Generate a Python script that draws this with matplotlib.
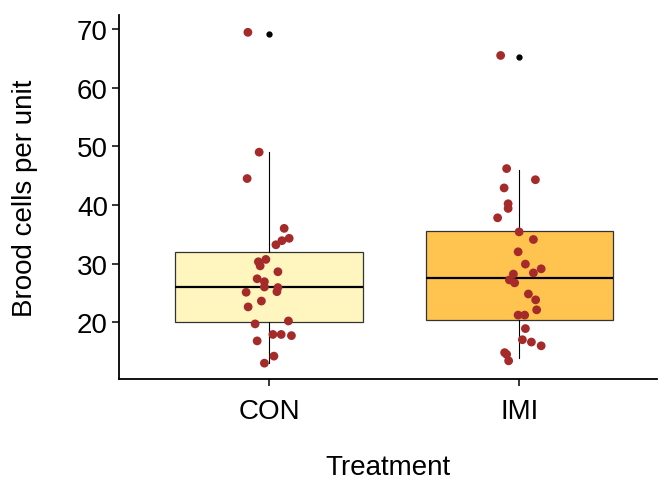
import matplotlib
matplotlib.use("Agg")
import matplotlib.pyplot as plt

plt.rcParams['font.family'] = ['Liberation Sans', 'DejaVu Sans']

categories = ["CON", "IMI"]
box_fill = ["#FFF5BE", "#FEC44F"]

# box statistics
q1 = [19.95, 20.4]
med = [26.0, 27.5]
q3 = [31.95, 35.55]
whislo = [13.0, 13.9]
whishi = [49.1, 45.9]
outliers = [[69.2], [65.3]]

# jittered raw points: values and horizontal jitter offsets (category units)
con_vals = [69.45, 49.0, 44.5, 36.0, 34.3, 33.9, 33.2, 30.7, 30.3, 29.6, 28.6,
            27.4, 26.9, 26.0, 25.9, 25.2, 25.1, 23.6, 22.6, 19.7, 20.2, 17.9,
            17.9, 17.7, 16.8, 14.2, 13.0]
con_jit = [-0.085, -0.04, -0.088, 0.06, 0.08, 0.051, 0.027, -0.013, -0.043, -0.036,
           0.035, -0.048, -0.019, -0.019, 0.035, 0.031, -0.092, -0.031, -0.084, -0.056,
           0.077, 0.015, 0.048, 0.089, -0.048, 0.019, -0.019]
imi_vals = [65.5, 46.2, 44.3, 42.9, 40.2, 39.4, 37.8, 35.4, 34.1, 32.0, 29.9,
            29.1, 28.4, 28.2, 27.2, 26.7, 24.8, 23.8, 22.1, 21.2, 21.2, 18.9,
            17.0, 16.6, 15.96, 14.8, 14.5, 13.4]
imi_jit = [-0.075, -0.051, 0.064, -0.061, -0.045, -0.045, -0.087, -0.001, 0.056, -0.005,
           0.024, 0.087, 0.056, -0.024, -0.04, -0.019, 0.036, 0.065, 0.069, -0.005,
           0.021, 0.024, 0.012, 0.048, 0.087, -0.059, -0.051, -0.043]

fig = plt.figure(figsize=(6.59, 4.81), dpi=100)
ax = fig.add_axes([0.1806, 0.21, 0.8164, 0.7567])

positions = [1, 2]
stats = []
for i in range(2):
    stats.append(dict(q1=q1[i], med=med[i], q3=q3[i], whislo=whislo[i],
                      whishi=whishi[i], fliers=outliers[i], label=categories[i]))

bp = ax.bxp(stats, positions=positions, widths=0.75, patch_artist=True,
            showcaps=False, showfliers=True,
            boxprops=dict(edgecolor="#333333", linewidth=0.9),
            medianprops=dict(color="black", linewidth=1.6),
            whiskerprops=dict(color="black", linewidth=0.8),
            flierprops=dict(marker="o", markerfacecolor="black",
                            markeredgecolor="black", markersize=3.5))
for patch, c in zip(bp['boxes'], box_fill):
    patch.set_facecolor(c)

for pos, vals, jit in [(1, con_vals, con_jit), (2, imi_vals, imi_jit)]:
    xs = [pos + j for j in jit]
    ax.scatter(xs, vals, s=40, color="#A52A2A", edgecolor="none", zorder=4)

ax.set_xlim(0.4, 2.55)
ax.set_ylim(10.3, 72.4)
ax.set_yticks([20, 30, 40, 50, 60, 70])
ax.set_xticks(positions)
ax.set_xticklabels(categories)

for s in ["top", "right"]:
    ax.spines[s].set_visible(False)
for s in ["left", "bottom"]:
    ax.spines[s].set_linewidth(1.3)
    ax.spines[s].set_color("black")
ax.tick_params(axis="both", direction="out", length=5, width=1.1, color="black",
               labelsize=20, labelcolor="black", pad=3)
ax.tick_params(axis="x", pad=9)

ax.set_xlabel("Treatment", fontsize=20, labelpad=21)
ax.set_ylabel("Brood cells per unit", fontsize=20, labelpad=28)

fig.savefig("out.png", dpi=100)
